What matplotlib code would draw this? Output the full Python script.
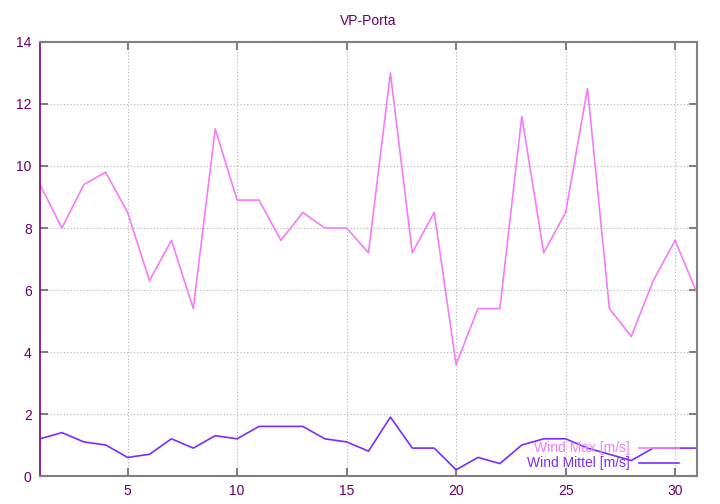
import matplotlib
matplotlib.use("Agg")
import matplotlib.pyplot as plt
from matplotlib.lines import Line2D

plt.rcParams['font.family'] = ['Liberation Sans', 'DejaVu Sans']

days = list(range(1, 32))
wind_max = [9.4, 8.0, 9.4, 9.8, 8.5, 6.3, 7.6, 5.4, 11.2, 8.9, 8.9, 7.6, 8.5, 8.0, 8.0,
            7.2, 13.0, 7.2, 8.5, 3.6, 5.4, 5.4, 11.6, 7.2, 8.5, 12.5, 5.4, 4.5, 6.3, 7.6, 5.9]
wind_mittel = [1.2, 1.4, 1.1, 1.0, 0.6, 0.7, 1.2, 0.9, 1.3, 1.2, 1.6, 1.6, 1.6, 1.2, 1.1,
               0.8, 1.9, 0.9, 0.9, 0.2, 0.6, 0.4, 1.0, 1.2, 1.2, 0.9, 0.7, 0.5, 0.9, 0.9, 0.9]
labels = ["Wind Max [m/s]", "Wind Mittel [m/s]"]
colors = ["#f47cf8", "#7a2cff"]
title = "VP-Porta"
xticks = [5, 10, 15, 20, 25, 30]
yticks = [0, 2, 4, 6, 8, 10, 12, 14]

fig = plt.figure(figsize=(7.2, 5.04), dpi=100)
ax = fig.add_axes([40/720, 28/504, 657/720, 434/504])

ax.plot(days, wind_max, color=colors[0], lw=1.2)
ax.plot(days, wind_mittel, color=colors[1], lw=1.2)

ax.set_xlim(1, 31)
ax.set_ylim(0, 14)
ax.set_xticks(xticks)
ax.set_yticks(yticks)
ax.grid(True, color="#b0b0b0", linestyle=(0, (1, 2)), lw=0.8)
ax.tick_params(direction="in", length=6, width=1.5, color="#808080",
               labelcolor="#660066", labelsize=10, top=True, right=True,
               pad=6)
for s in ["top", "bottom", "right"]:
    ax.spines[s].set_color("#808080")
    ax.spines[s].set_linewidth(1.5)
ax.spines["left"].set_color("#800080")
ax.spines["left"].set_linewidth(1.2)

ax.set_title(title, color="#660066", fontsize=10, pad=12)

# legend (gnuplot style: right-aligned text, sample to the right)
rows_y = [0.0645, 0.030]
for lab, col, yy in zip(labels, colors, rows_y):
    ax.text(0.898, yy, lab, transform=ax.transAxes, ha="right", va="center",
            color=col, fontsize=10)
    ax.add_line(Line2D([0.912, 0.972], [yy, yy], transform=ax.transAxes,
                       color=col, lw=1.2))

fig.savefig("out.png", dpi=100)
